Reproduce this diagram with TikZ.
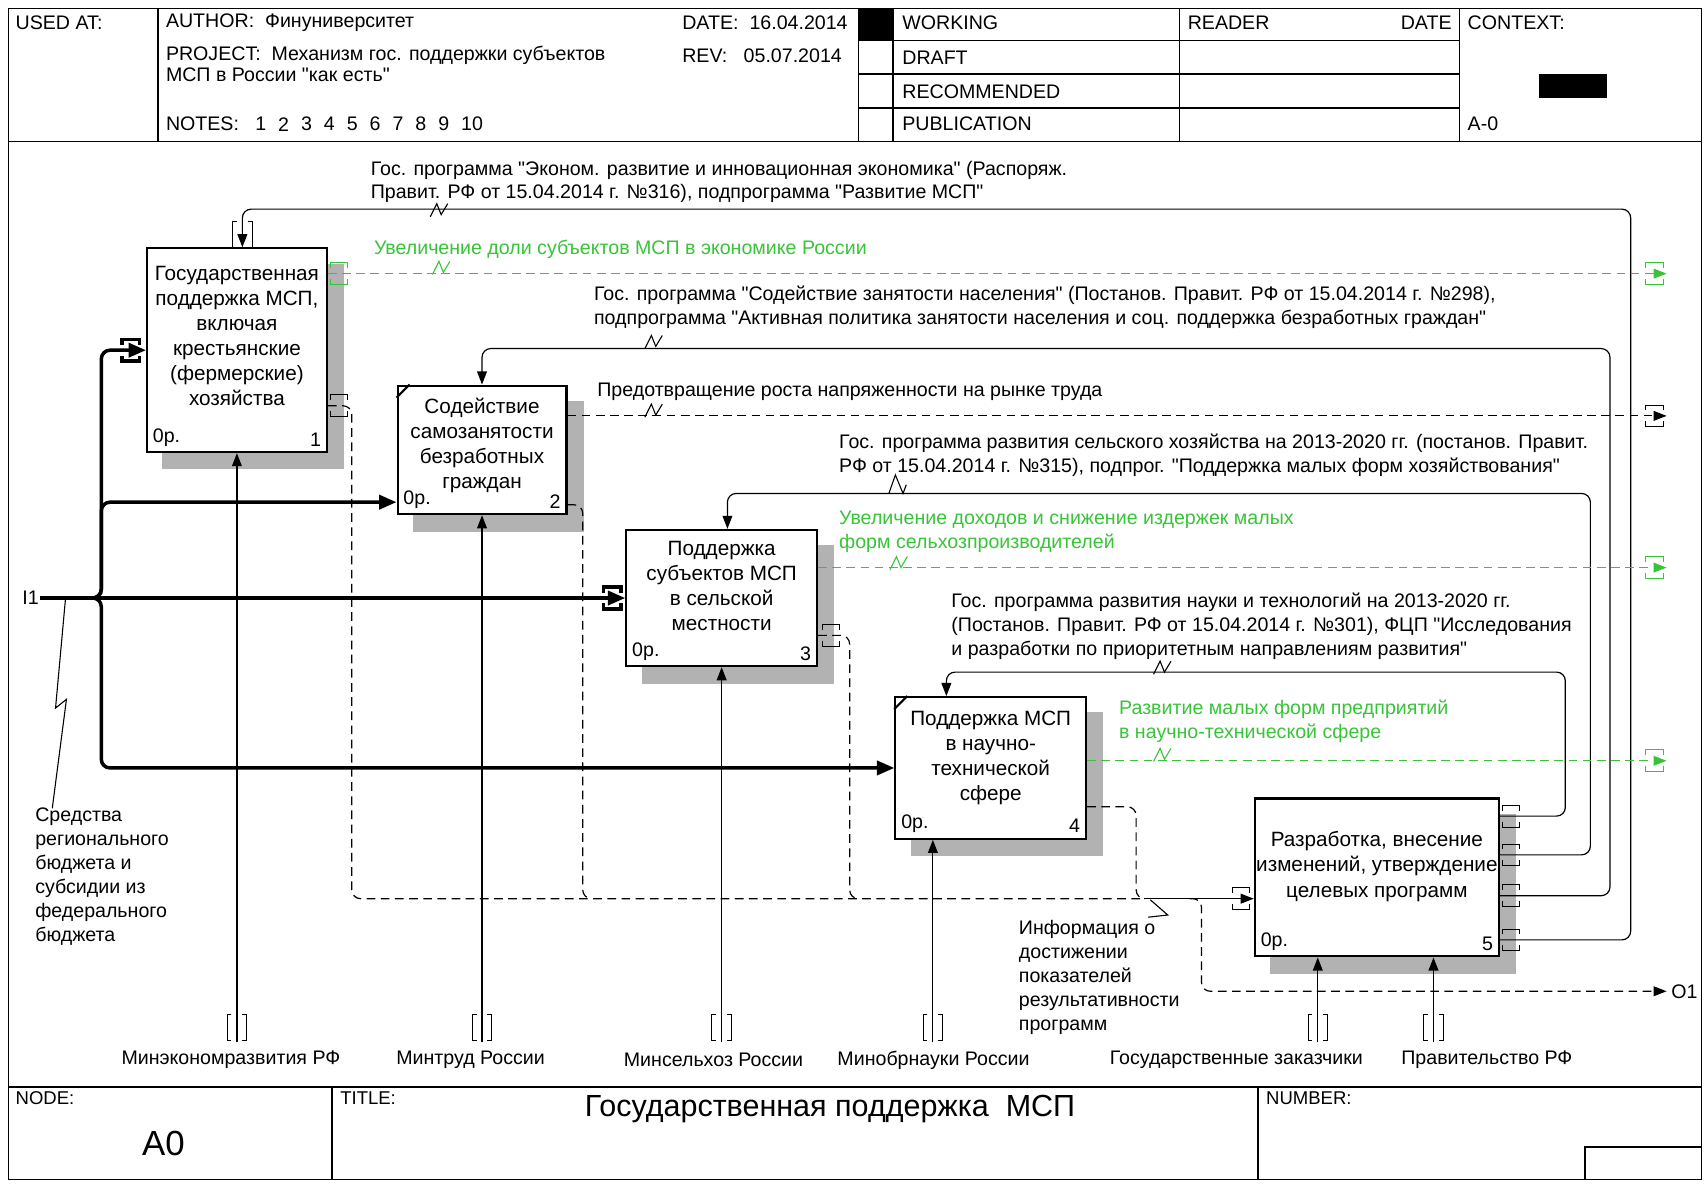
\documentclass[tikz,border=0pt]{standalone}
\usepackage{fontspec}
\setmainfont{Liberation Sans}[Ligatures=TeXOff]
\usetikzlibrary{arrows.meta,calc,positioning,backgrounds}
\definecolor{idefgreen}{RGB}{56,196,56}
\definecolor{hatchgrey}{RGB}{178,178,178}
\tikzset{
  func/.style={draw,line width=1pt,fill=white,inner sep=0pt},
  hatch/.style={fill=hatchgrey},
  boxtext/.style={font=\fontsize{9.5}{11.5}\selectfont,align=center,inner sep=0pt},
  numtext/.style={font=\fontsize{9}{11}\selectfont,inner sep=3pt},
  arrowlabel/.style={font=\fontsize{9}{11}\selectfont,align=left,anchor=west,inner sep=0pt},
  hdr/.style={font=\fontsize{9}{11}\selectfont,anchor=west,inner sep=0pt},
  sheetline/.style={line width=0.7pt},
  ctrl/.style={-{Triangle[length=6pt,width=4.5pt]},line width=0.55pt,rounded corners=4pt},
  inflow/.style={-{Triangle[length=8pt,width=6.5pt]},line width=1.6pt,rounded corners=4pt},
  fbline/.style={line width=0.55pt,dash pattern=on 4pt off 2.5pt,rounded corners=4pt},
  outgreen/.style={fbline,draw=idefgreen,-{Triangle[length=6pt,width=4.5pt]}},
  outblack/.style={fbline,-{Triangle[length=6pt,width=4.5pt]}},
  tunnelh/.pic={
    \draw (-8,-5) -- (-8,-10) -- (8,-10) -- (8,-5);
    \draw (-8,5) -- (-8,10) -- (8,10) -- (8,5);
  },
  tunnelv/.pic={
    \draw (-5,-12) -- (-9,-12) -- (-9,12) -- (-5,12);
    \draw (5,-12) -- (9,-12) -- (9,12) -- (5,12);
  },
  squiggle/.pic={
    \draw[line width=0.5pt] (-8,6) -- (-2,-6) -- (2,4) -- (8,-6);
  }
}

\begin{document}
\begin{tikzpicture}[x=0.5pt,y=-0.5pt]
  \useasboundingbox (0,0) rectangle (1568,1087);

  % sheet frame, header and footer
  \draw[sheetline] (8,8) rectangle (1562,1083);
  \draw[sheetline] (8,130) -- (1562,130);
  \draw[sheetline] (8,998) -- (1562,998);
  \foreach \x in {145,788,820,1083,1340}
    \draw[sheetline] (\x,8) -- (\x,130);
  \foreach \y in {37,68,99}
    \draw[sheetline] (788,\y) -- (1340,\y);
  \fill (788,8) rectangle (820,37);
  \fill (1413,68) rectangle (1475,90);
  \draw[sheetline] (305,998) -- (305,1083);
  \draw[sheetline] (1155,998) -- (1155,1083);
  \draw[sheetline] (1455,1053) rectangle (1562,1083);

  \node[hdr] (usedat) at (14,21) {USED AT:};
  \node[hdr] (author) at (152,21) {AUTHOR:\ \ Финуниверситет};
  \node[hdr] (date) at (626,21) {DATE:\ \ 16.04.2014};
  \node[hdr] (project) at (152,51) {PROJECT:\ \ Механизм гос. поддержки субъектов};
  \node[hdr] (project2) at (152,69) {МСП в России "как есть"};
  \node[hdr] (rev) at (626,51) {REV:\ \ \ 05.07.2014};
  \node[hdr] (notes) at (152,114) {NOTES:};
  \foreach \n [count=\i] in {1,...,10}
    \node[hdr] (note\n) at ({213+21*\i},114) {\n};
  \node[hdr] (working) at (828,21) {WORKING};
  \node[hdr] (draft) at (828,53) {DRAFT};
  \node[hdr] (recommended) at (828,84) {RECOMMENDED};
  \node[hdr] (publication) at (828,114) {PUBLICATION};
  \node[hdr] (reader) at (1090,21) {READER};
  \node[hdr,anchor=east] (readerdate) at (1333,21) {DATE};
  \node[hdr] (context) at (1347,21) {CONTEXT:};
  \node[hdr] (contextnum) at (1347,114) {A-0};

  \node[hdr,font=\fontsize{8.5}{10}\selectfont] (nodelbl) at (14,1008) {NODE:};
  \node[font=\fontsize{16}{18}\selectfont] (nodenum) at (150,1050) {A0};
  \node[hdr,font=\fontsize{8.5}{10}\selectfont] (titlelbl) at (312,1008) {TITLE:};
  \node[font=\fontsize{14}{16}\selectfont] (title) at (762,1018) {Государственная поддержка\ \ МСП};
  \node[hdr,font=\fontsize{8.5}{10}\selectfont] (numberlbl) at (1162,1008) {NUMBER:};

  % function boxes
  \node[func,minimum width=82.5pt,minimum height=93.5pt] (b1) at (217.5,321.5) {};
  \node[func,minimum width=77.5pt,minimum height=59pt] (b2) at (442.5,413) {};
  \node[func,minimum width=87.5pt,minimum height=62.5pt] (b3) at (662.5,549) {};
  \node[func,minimum width=87.5pt,minimum height=65pt] (b4) at (909.5,705) {};
  \node[func,minimum width=112pt,minimum height=72.5pt] (b5) at (1264,805.5) {};
  \begin{scope}[on background layer]
    \foreach \b in {b1,b2,b3,b4,b5}
      \fill[hatch] ([shift={(7.5pt,-7.5pt)}]\b.south west) rectangle ([shift={(7.5pt,-7.5pt)}]\b.north east);
  \end{scope}
  \draw[line width=1pt] ([yshift=-6pt]b2.north west) -- ([xshift=6pt]b2.north west);
  \draw[line width=1pt] ([yshift=-6pt]b4.north west) -- ([xshift=6pt]b4.north west);

  \node[boxtext] (b1t) at ([yshift=6.5pt]b1.center) {Государственная\\поддержка МСП,\\включая\\крестьянские\\(фермерские)\\хозяйства};
  \node[boxtext] (b2t) at ([yshift=2pt]b2.center) {Содействие\\самозанятости\\безработных\\граждан};
  \node[boxtext] (b3t) at ([yshift=5.5pt]b3.center) {Поддержка\\субъектов МСП\\в сельской\\местности};
  \node[boxtext] (b4t) at ([yshift=4.5pt]b4.center) {Поддержка МСП\\в научно-\\технической\\сфере};
  \node[boxtext] (b5t) at ([yshift=5pt]b5.center) {Разработка, внесение\\изменений, утверждение\\целевых программ};
  \foreach \b/\k in {b1/1,b2/2,b3/3,b4/4,b5/5} {
    \node[numtext,anchor=south west] (\b r) at (\b.south west) {0р.};
    \node[numtext,anchor=south east] (\b n) at (\b.south east) {\k};
  }

  % attachment points
  \coordinate (b1o1) at ($(b1.north east)!0.128!(b1.south east)$);
  \coordinate (b1o2) at ($(b1.north east)!0.77!(b1.south east)$);
  \coordinate (b2o1) at ($(b2.north east)!0.24!(b2.south east)$);
  \coordinate (b2o2) at ($(b2.north east)!0.92!(b2.south east)$);
  \coordinate (b3o1) at ($(b3.north east)!0.28!(b3.south east)$);
  \coordinate (b3o2) at ($(b3.north east)!0.77!(b3.south east)$);
  \coordinate (b4o1) at ($(b4.north east)!0.45!(b4.south east)$);
  \coordinate (b4o2) at ($(b4.north east)!0.77!(b4.south east)$);
  \coordinate (b5c1) at ($(b5.north east)!0.89!(b5.south east)$);
  \coordinate (b5c2) at ($(b5.north east)!0.614!(b5.south east)$);
  \coordinate (b5c3) at ($(b5.north east)!0.359!(b5.south east)$);
  \coordinate (b5c4) at ($(b5.north east)!0.117!(b5.south east)$);
  \coordinate (b1c) at ($(b1.north west)!0.53!(b1.north east)$);
  \coordinate (b3c) at ($(b3.north west)!0.53!(b3.north east)$);
  \coordinate (b4c) at ($(b4.north west)!0.27!(b4.north east)$);
  \coordinate (b2in) at ($(b2.north west)!0.9!(b2.south west)$);
  \coordinate (b4m) at ($(b4.south west)!0.2!(b4.south east)$);
  \coordinate (b5m1) at ($(b5.south west)!0.26!(b5.south east)$);
  \coordinate (b5m2) at ($(b5.south west)!0.73!(b5.south east)$);
  \coordinate (i1) at (37,549);
  \coordinate (split) at (81,549);
  \coordinate (trunk) at (93,549);
  \coordinate (rend) at (1530,0);
  \coordinate (mbase) at (0,957);
  \coordinate (mtun) at (0,943);
  \coordinate (fbjoin) at (1050,825);
  \coordinate (o1split) at (1092,825);
  \coordinate (o1end) at (1530,910);

  % inputs
  \draw[inflow] (i1) -- (b3.west);
  \draw[inflow] (split) -| (b1.west -| trunk) -- (b1.west);
  \draw[inflow] (split) -| (b2in -| trunk) -- (b2in);
  \draw[inflow] (split) -| (b4.west -| trunk) -- (b4.west);
  \node[hdr,anchor=east] (i1lbl) at (36,549) {I1};
  \draw[line width=0.5pt] (60,551) -- (51,650) -- (61,642) -- (48,742);
  \node[arrowlabel] (funds) at (32,805) {Средства\\регионального\\бюджета и\\субсидии из\\федерального\\бюджета};

  % controls fed back from box 5
  \draw[ctrl] (b5c1) -| (1497,192) -| (b1c);
  \draw[ctrl] (b5c2) -| (1478,320) -| (b2.north);
  \draw[ctrl] (b5c3) -| (1460,453) -| (b3c);
  \draw[ctrl] (b5c4) -| (1437,617) -| (b4c);
  \node[arrowlabel] (lc1) at (340,167) {Гос. программа "Эконом. развитие и инновационная экономика" (Распоряж.\\Правит. РФ от 15.04.2014 г. №316), подпрограмма "Развитие МСП"};
  \node[arrowlabel] (lc2) at (545,282) {Гос. программа "Содействие занятости населения" (Постанов. Правит. РФ от 15.04.2014 г. №298),\\подпрограмма "Активная политика занятости населения и соц. поддержка безработных граждан"};
  \node[arrowlabel] (lc3) at (770,418) {Гос. программа развития сельского хозяйства на 2013-2020 гг. (постанов. Правит.\\РФ от 15.04.2014 г. №315), подпрог. "Поддержка малых форм хозяйствования"};
  \node[arrowlabel] (lc4) at (873,575) {Гос. программа развития науки и технологий на 2013-2020 гг.\\(Постанов. Правит. РФ от 15.04.2014 г. №301), ФЦП "Исследования\\и разработки по приоритетным направлениям развития"};
  \pic at (403,193) {squiggle};
  \pic at (600,314) {squiggle};
  \draw[line width=0.5pt] (816,453) -- (822,436) -- (829,453) -- (832,445);
  \pic at (1067,613) {squiggle};

  % outputs
  \draw[outgreen] (b1o1) -- (b1o1 -| rend);
  \draw[outblack] (b2o1) -- (b2o1 -| rend);
  \draw[outgreen] (b3o1) -- (b3o1 -| rend);
  \draw[outgreen] (b4o1) -- (b4o1 -| rend);
  \node[arrowlabel,text=idefgreen] (lo1) at (343,229) {Увеличение доли субъектов МСП в экономике России};
  \node[arrowlabel] (lo2) at (548,360) {Предотвращение роста напряженности на рынке труда};
  \node[arrowlabel,text=idefgreen] (lo3) at (770,488) {Увеличение доходов и снижение издержек малых\\форм сельхозпроизводителей};
  \node[arrowlabel,text=idefgreen] (lo4) at (1027,662) {Развитие малых форм предприятий\\в научно-технической сфере};
  \pic[idefgreen] at (405,246) {squiggle};
  \pic at (600,377) {squiggle};
  \pic[idefgreen] at (825,517) {squiggle};
  \pic[idefgreen] at (1067,693) {squiggle};

  % performance information to box 5
  \draw[fbline] (b1o2) -| (323,825) -- (fbjoin);
  \draw[fbline] (b2o2) -| (535,825) -- ++(8,0);
  \draw[fbline] (b3o2) -| (780,825) -- ++(8,0);
  \draw[fbline] (b4o2) -| (1043,825) -- ++(8,0);
  \draw[ctrl] (fbjoin) -- (b5.west |- fbjoin);
  \draw[outblack] (o1split) -| (1103,880) |- (o1end);
  \draw[line width=0.5pt] (1056,826) -- (1072,840) -- (1054,842);
  \node[arrowlabel] (linfo) at (935,897) {Информация о\\достижении\\показателей\\результативности\\программ};
  \node[hdr] (o1lbl) at (1534,910) {O1};

  % mechanisms
  \draw[ctrl] (b1.south |- mbase) -- (b1.south);
  \draw[ctrl] (b2.south |- mbase) -- (b2.south);
  \draw[ctrl] (b3.south |- mbase) -- (b3.south);
  \draw[ctrl] (b4m |- mbase) -- (b4m);
  \draw[ctrl] (b5m1 |- mbase) -- (b5m1);
  \draw[ctrl] (b5m2 |- mbase) -- (b5m2);
  \foreach \m in {b1.south,b2.south,b3.south,b4m,b5m1,b5m2}
    \pic at (\m |- mtun) {tunnelv};
  \node[hdr,anchor=center] (mech1) at (212,973) {Минэкономразвития РФ};
  \node[hdr,anchor=center] (mech2) at (432,973) {Минтруд России};
  \node[hdr,anchor=center] (mech3) at (655,973) {Минсельхоз России};
  \node[hdr,anchor=center] (mech4) at (857,973) {Минобрнауки России};
  \node[hdr,anchor=center] (mech5) at (1135,973) {Государственные заказчики};
  \node[hdr,anchor=center] (mech6) at (1365,973) {Правительство РФ};

  % tunnels
  \pic at ([yshift=6pt]b1c) {tunnelv};
  \pic[line width=1.6pt] at ([xshift=-7pt]b1.west) {tunnelh};
  \pic[line width=1.6pt] at ([xshift=-6pt]b3.west) {tunnelh};
  \pic at ([xshift=-6pt]b5.west |- fbjoin) {tunnelh};
  \pic[idefgreen] at ([xshift=5pt]b1o1) {tunnelh};
  \pic at ([xshift=5pt]b1o2) {tunnelh};
  \pic at ([xshift=6pt]b3o2) {tunnelh};
  \foreach \c in {b5c1,b5c2,b5c3,b5c4}
    \pic at ([xshift=5pt]\c) {tunnelh};
  \pic[idefgreen] at ([xshift=-5.5pt]b1o1 -| rend) {tunnelh};
  \pic at ([xshift=-5.5pt]b2o1 -| rend) {tunnelh};
  \pic[idefgreen] at ([xshift=-5.5pt]b3o1 -| rend) {tunnelh};
  \pic[idefgreen] at ([xshift=-5.5pt]b4o1 -| rend) {tunnelh};
\end{tikzpicture}
\end{document}
